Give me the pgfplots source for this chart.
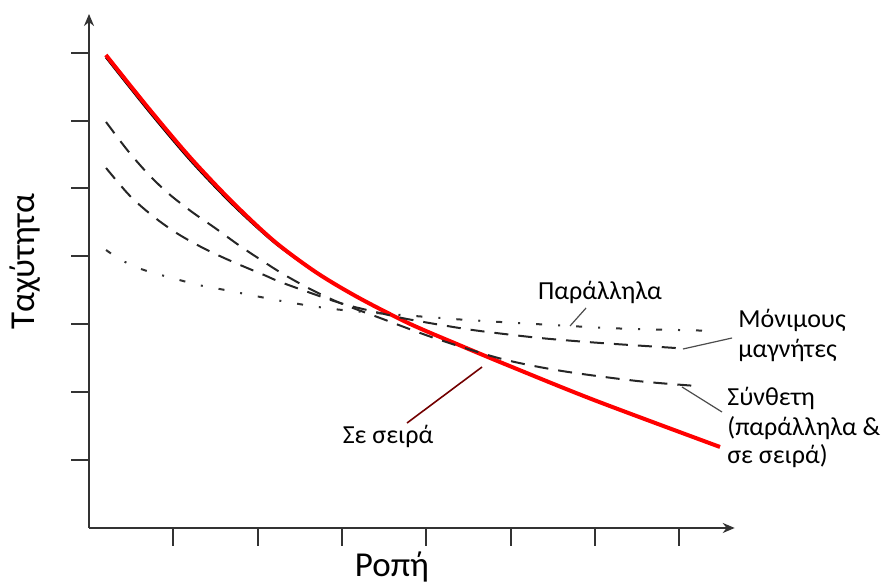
\documentclass[border=0pt]{standalone}
\usepackage{fontspec}
\setmainfont{Carlito}
\usepackage{pgfplots}
\pgfplotsset{compat=1.18}
\usetikzlibrary{arrows.meta}
\begin{document}
\begin{tikzpicture}
\begin{axis}[
  x=42.15pt, y=33.95pt,
  xmin=0, xmax=7.66, ymin=0, ymax=7.57,
  axis lines=left,
  axis line style={line width=1pt, black!80, -{Stealth[length=6pt,width=5pt]}},
  xtick={1,...,7}, ytick={1,...,7},
  xticklabels={}, yticklabels={},
  tick align=outside,
  xtick style={line width=1pt, black!80},
  ytick style={line width=1pt, black!80},
  major tick length=9pt,
  clip=false,
]
% Black (original) series curve under the red one
\addplot[black, line width=1pt, smooth] coordinates {
 (0.2,6.93) (0.7,6.15) (1.2,5.415) (1.7,4.765) (2.2,4.20) (2.7,3.75)};
% Sigma e seira (series) - red
\addplot[red, line width=2pt, smooth] coordinates {
 (0.2,6.966) (0.7,6.191) (1.2,5.456) (1.7,4.80) (2.2,4.22) (2.7,3.76)
 (3.2,3.39) (3.8,3.01) (4.4,2.69) (5.0,2.38) (6.0,1.88) (7.485,1.193)};
% Synthetic (compound) - dashed
\addplot[black!85, line width=1pt, dash pattern=on 7pt off 5pt, smooth] coordinates {
 (0.202,5.979) (0.463,5.552) (0.712,5.199) (0.949,4.919) (1.222,4.654)
 (1.495,4.418) (1.791,4.153) (2.076,3.918) (2.301,3.741) (2.622,3.520)
 (2.977,3.314) (3.452,3.093) (4.128,2.784) (4.899,2.489) (5.611,2.312)
 (6.501,2.165) (7.212,2.091)};
% Permanent magnets - dashed
\addplot[black!85, line width=1pt, dash pattern=on 7pt off 5pt, smooth] coordinates {
 (0.202,5.302) (0.486,4.890) (0.771,4.580) (1.056,4.330) (1.376,4.109)
 (1.708,3.918) (2.076,3.726) (2.301,3.608) (2.977,3.314) (3.452,3.166)
 (3.772,3.078) (4.247,2.975) (4.638,2.901) (5.350,2.798) (6.062,2.725)
 (6.951,2.651) (7.046,2.636)};
% Parallel (shunt) - dash dot
\addplot[black!80, line width=1pt, dash pattern=on 3pt off 8pt on 1pt off 8pt, smooth] coordinates {
 (0.202,4.094) (0.380,3.947) (0.617,3.814) (0.854,3.726) (1.115,3.638)
 (1.352,3.564) (1.613,3.505) (2.349,3.328) (3.001,3.211) (4.164,3.093)
 (4.674,3.049) (5.919,2.960) (6.453,2.931) (6.987,2.916) (7.461,2.901)};
% leader lines
\draw[black!70, line width=0.6pt] (axis cs:5.896,3.240) -- (axis cs:5.706,2.975);
\draw[black!70, line width=0.6pt] (axis cs:7.046,2.636) -- (axis cs:7.628,2.798);
\draw[black!70, line width=0.6pt] (axis cs:7.034,2.077) -- (axis cs:7.509,1.708);
\draw[red!45!black, line width=0.8pt] (axis cs:4.662,2.371) -- (axis cs:3.772,1.546);
% labels
\node[font=\fontsize{13}{15}\selectfont] at (axis cs:6.062,3.476) {Παράλληλα};
\node[font=\fontsize{13}{15}\selectfont, anchor=west, inner sep=0pt] at (axis cs:7.699,3.063) {Μόνιμους};
\node[font=\fontsize{13}{15}\selectfont, anchor=west, inner sep=0pt] at (axis cs:7.699,2.622) {μαγνήτες};
\node[font=\fontsize{13}{15}\selectfont, anchor=west, inner sep=0pt] at (axis cs:7.568,1.915) {Σύνθετη};
\node[font=\fontsize{13}{15}\selectfont, anchor=west, inner sep=0pt] at (axis cs:7.568,1.473) {(παράλληλα \&};
\node[font=\fontsize{13}{15}\selectfont, anchor=west, inner sep=0pt] at (axis cs:7.568,1.060) {σε σειρά)};
\node[font=\fontsize{13}{15}\selectfont] at (axis cs:3.547,1.355) {Σε σειρά};
\node[font=\fontsize{17.5}{20}\selectfont] at (axis cs:3.594,-0.574) {Ροπή};
\node[font=\fontsize{17.5}{20}\selectfont, rotate=90] at (axis cs:-0.759,3.918) {Ταχύτητα};
\coordinate (bbsw) at (axis cs:-1.056,-0.810);
\coordinate (bbne) at (axis cs:9.478,7.776);
\end{axis}
\pgfresetboundingbox
\path[use as bounding box] (bbsw) rectangle (bbne);
\end{tikzpicture}
\end{document}
